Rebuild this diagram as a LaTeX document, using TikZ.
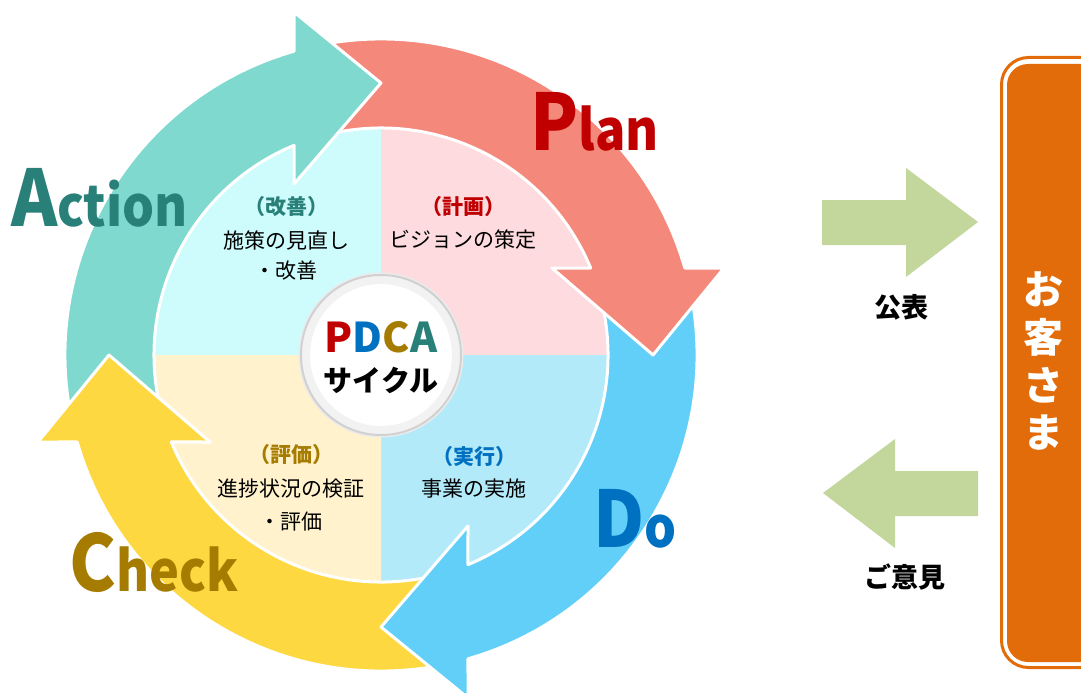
\documentclass[tikz,border=0pt]{standalone}
\usepackage{fontspec}
\setmainfont{Noto Sans}
\newfontfamily\jpfont{Noto Sans CJK JP}
\usetikzlibrary{calc}
\definecolor{tealA}{RGB}{128,217,207}
\definecolor{redA}{RGB}{244,136,122}
\definecolor{blueA}{RGB}{97,207,247}
\definecolor{yelA}{RGB}{253,216,64}
\definecolor{qA}{RGB}{206,252,252}
\definecolor{qP}{RGB}{253,219,223}
\definecolor{qC}{RGB}{255,242,204}
\definecolor{qD}{RGB}{178,234,250}
\definecolor{txP}{RGB}{192,0,0}
\definecolor{txD}{RGB}{0,112,192}
\definecolor{txC}{RGB}{166,124,0}
\definecolor{txA}{RGB}{40,128,120}
\definecolor{orangeB}{RGB}{227,108,10}
\definecolor{greenB}{RGB}{195,214,155}
\tikzset{
  arrowshape/.style={draw=white, line width=3pt, line join=round},
  bigword/.style={inner sep=0pt, anchor=base west, font=\jpfont\bfseries},
  lblhead/.style={inner sep=0pt, font=\jpfont\bfseries\fontsize{21}{21}\selectfont},
  lblbody/.style={inner sep=0pt, text=black, font=\jpfont\fontsize{21}{21}\selectfont},
  sidetxt/.style={inner sep=0pt, text=black, font=\jpfont\bfseries\fontsize{27}{27}\selectfont},
  custtxt/.style={inner sep=0pt, text=white, font=\jpfont\bfseries\fontsize{40}{40}\selectfont},
}
\newcommand\pdcaarrow[2]{%
  \filldraw[arrowshape, fill=#1, rotate=#2]
    (194:316) arc[start angle=194, end angle=105.98, radius=316]
    -- (-87,343) -- (0,272) -- (-87,171) -- (112.53:227)
    arc[start angle=112.53, end angle=194, radius=227]
    -- (182:271.5) -- cycle;}
\newcommand\bigw[2]{\scalebox{0.9}[1]{{\fontsize{78}{78}\selectfont #1}{\fontsize{56}{56}\selectfont #2}}}
\begin{document}
\begin{tikzpicture}[x=1pt,y=-1pt]
\useasboundingbox[fill=white] (0,0) rectangle (1081,693);

% ---------- wheel ----------
\begin{scope}[shift={(381,355)}, x=1pt, y=1pt]
  \fill[qA] (0,0) -- (-230,0) arc[start angle=180, end angle=90, radius=230] -- cycle;
  \fill[qP] (0,0) -- (0,230) arc[start angle=90, end angle=0, radius=230] -- cycle;
  \fill[qD] (0,0) -- (230,0) arc[start angle=0, end angle=-90, radius=230] -- cycle;
  \fill[qC] (0,0) -- (0,-230) arc[start angle=270, end angle=180, radius=230] -- cycle;
  \pdcaarrow{yelA}{90}
  \pdcaarrow{blueA}{180}
  \pdcaarrow{redA}{-90}
  \pdcaarrow{tealA}{0}
  \begin{scope}
    \clip (-380,-100) rectangle (-140,40);
    \pdcaarrow{yelA}{90}
  \end{scope}
  % centre disc
  \fill[black!8] (0,0) circle (82.5);
  \fill[white] (0,0) circle (80);
  \draw[black!5, line width=8pt] (0,0) circle (75);
  \draw[black!18, line width=2pt] (0,0) circle (80);
\end{scope}

\node[bigword, text=txP] (plan) at (530,150) {\bigw{P}{lan}};
\node[bigword, text=txA] (action) at (11,226) {\bigw{A}{ction}};
\node[bigword, text=txC] (check) at (69,591) {\bigw{C}{heck}};
\node[bigword, text=txD] (do) at (593,547) {\bigw{D}{o}};

\node[inner sep=0pt, anchor=base, font=\jpfont\bfseries\fontsize{41}{41}\selectfont] (pdca) at (381,352)
  {\textcolor{txP}{P}\textcolor{txD}{D}\textcolor{txC}{C}\textcolor{txA}{A}};
\node[inner sep=0pt, font=\jpfont\bfseries\fontsize{29}{29}\selectfont] (cycle) at (381,380) {サイクル};

\node[lblhead, text=txA] (ah) at (286,207) {（改善）};
\node[lblbody] (ab1) at (286,240) {施策の見直し};
\node[lblbody] (ab2) at (286,271) {・改善};

\node[lblhead, text=txP] (ph) at (463,207) {（計画）};
\node[lblbody] (pb1) at (463,240) {ビジョンの策定};

\node[lblhead, text=txD] (dh) at (474,457) {（実行）};
\node[lblbody] (db1) at (474,489) {事業の実施};

\node[lblhead, text=txC] (ch) at (291,455) {（評価）};
\node[lblbody] (cb1) at (291,489) {進捗状況の検証};
\node[lblbody] (cb2) at (291,522) {・評価};

% ---------- right side ----------
\fill[greenB] (822,200) -- (906,200) -- (906,168) -- (978,222) -- (906,277)
  -- (906,245) -- (822,245) -- cycle;
\fill[greenB] (978,471) -- (895,471) -- (895,439) -- (823,493) -- (895,548)
  -- (895,516) -- (978,516) -- cycle;
\node[sidetxt] (kohyo) at (901,307) {公表};
\node[sidetxt] (goiken) at (905,577) {ご意見};

\draw[orangeB, line width=3pt, rounded corners=27pt] (1001.5,57.5) rectangle (1110,667.5);
\fill[orangeB, rounded corners=21pt] (1007,64) rectangle (1104,662);
\node[custtxt] (c1) at (1043,289) {お};
\node[custtxt] (c2) at (1043,337) {客};
\node[custtxt] (c3) at (1043,385) {さ};
\node[custtxt] (c4) at (1043,433) {ま};
\end{tikzpicture}
\end{document}
